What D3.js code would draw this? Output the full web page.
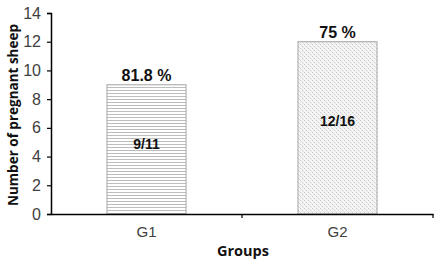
<!DOCTYPE html>
<html>
<head>
<meta charset="utf-8">
<script src="https://cdn.jsdelivr.net/npm/d3@7"></script>
<style>
  body { margin: 0; background: #fff; }
  svg { display: block; font-family: Arial, "Liberation Sans", sans-serif; }
</style>
</head>
<body>
<div id="chart"></div>
<script>
/* Data */
const groups = ["G1", "G2"];
const pregnant = [9, 12];
const ratios = ["9/11", "12/16"];
const percents = ["81.8 %", "75 %"];
const yTicks = [0, 2, 4, 6, 8, 10, 12, 14];

const width = 438, height = 263;
const plotLeft = 51, plotRight = 433, plotTop = 13, plotBottom = 214;

const svg = d3.select("#chart").append("svg")
  .attr("width", width)
  .attr("height", height);

/* Patterns */
const defs = svg.append("defs");
const hLines = defs.append("pattern")
  .attr("id", "hlines")
  .attr("patternUnits", "userSpaceOnUse")
  .attr("width", 6).attr("height", 3);
hLines.append("rect").attr("width", 6).attr("height", 3).attr("fill", "#fff");
hLines.append("rect").attr("width", 6).attr("height", 1).attr("fill", "#bcbcbc");

const dots = defs.append("pattern")
  .attr("id", "dots")
  .attr("patternUnits", "userSpaceOnUse")
  .attr("width", 4).attr("height", 4);
dots.append("rect").attr("width", 4).attr("height", 4).attr("fill", "#f4f4f4");
dots.append("rect").attr("x", 0).attr("y", 0).attr("width", 1).attr("height", 1).attr("fill", "#cacaca");
dots.append("rect").attr("x", 2).attr("y", 2).attr("width", 1).attr("height", 1).attr("fill", "#cacaca");
dots.append("rect").attr("x", 1).attr("y", 1).attr("width", 1).attr("height", 1).attr("fill", "#e2e2e2");
dots.append("rect").attr("x", 3).attr("y", 3).attr("width", 1).attr("height", 1).attr("fill", "#e2e2e2");

const fills = ["url(#hlines)", "url(#dots)"];

/* Scales */
const x = d3.scaleBand()
  .domain(groups)
  .range([plotLeft, plotRight])
  .paddingInner(0.586)
  .paddingOuter(0.293);

const y = d3.scaleLinear()
  .domain([0, 14])
  .range([plotBottom, plotTop]);

/* Bars */
svg.selectAll(".bar")
  .data(groups)
  .enter()
  .append("rect")
  .attr("class", "bar")
  .attr("x", d => x(d))
  .attr("y", (d, i) => y(pregnant[i]))
  .attr("width", x.bandwidth())
  .attr("height", (d, i) => y(0) - y(pregnant[i]))
  .attr("fill", (d, i) => fills[i])
  .attr("stroke", "#a6a6a6")
  .attr("stroke-width", 1);

/* Labels on bars */
svg.selectAll(".pct")
  .data(groups)
  .enter()
  .append("text")
  .attr("class", "pct")
  .attr("x", d => x(d) + x.bandwidth() / 2)
  .attr("y", (d, i) => y(pregnant[i]) - 4)
  .attr("text-anchor", "middle")
  .attr("font-weight", "bold")
  .attr("font-size", "16px")
  .attr("fill", "#111")
  .text((d, i) => percents[i]);

svg.selectAll(".ratio")
  .data(groups)
  .enter()
  .append("text")
  .attr("class", "ratio")
  .attr("x", d => x(d) + x.bandwidth() / 2)
  .attr("y", (d, i) => y(pregnant[i] * 0.54) + 5)
  .attr("text-anchor", "middle")
  .attr("font-weight", "bold")
  .attr("font-size", "14px")
  .attr("fill", "#111")
  .text((d, i) => ratios[i]);

/* Y axis */
const yAxis = svg.append("g")
  .attr("transform", `translate(${plotLeft},0)`)
  .call(d3.axisLeft(y).tickValues(yTicks).tickSize(4).tickPadding(6));
yAxis.select(".domain").attr("stroke", "#000").attr("stroke-width", 1.5);
yAxis.selectAll(".tick line").attr("stroke", "#000").attr("stroke-width", 1.2);
yAxis.selectAll(".tick text")
  .attr("font-size", "16px")
  .attr("font-family", "Arial, 'Liberation Sans', sans-serif")
  .attr("fill", "#404040");

/* X axis */
const xAxis = svg.append("g")
  .attr("transform", `translate(0,${plotBottom})`)
  .call(d3.axisBottom(x).tickSize(0).tickPadding(12));
xAxis.select(".domain").attr("stroke", "#000").attr("stroke-width", 1.5);
xAxis.selectAll(".tick text")
  .attr("font-size", "15px")
  .attr("font-family", "Arial, 'Liberation Sans', sans-serif")
  .attr("fill", "#404040");

// category boundary ticks
const bounds = [plotLeft + x.step(), plotRight];
svg.selectAll(".btick")
  .data(bounds)
  .enter()
  .append("line")
  .attr("class", "btick")
  .attr("x1", d => d).attr("x2", d => d)
  .attr("y1", plotBottom).attr("y2", plotBottom + 4)
  .attr("stroke", "#000")
  .attr("stroke-width", 1.2);

/* Axis titles */
svg.append("text")
  .attr("x", (plotLeft + plotRight) / 2 + 1)
  .attr("y", 256)
  .attr("text-anchor", "middle")
  .attr("font-weight", "bold")
  .attr("font-size", "14.5px")
  .attr("font-family", "'Open Sans', 'DejaVu Sans', sans-serif")
  .attr("fill", "#111")
  .text("Groups");

svg.append("text")
  .attr("transform", "rotate(-90)")
  .attr("x", -115)
  .attr("y", 18)
  .attr("text-anchor", "middle")
  .attr("font-weight", "bold")
  .attr("font-size", "13.5px")
  .attr("font-family", "'Open Sans', 'DejaVu Sans', sans-serif")
  .attr("fill", "#111")
  .text("Number of pregnant sheep");
</script>
</body>
</html>
